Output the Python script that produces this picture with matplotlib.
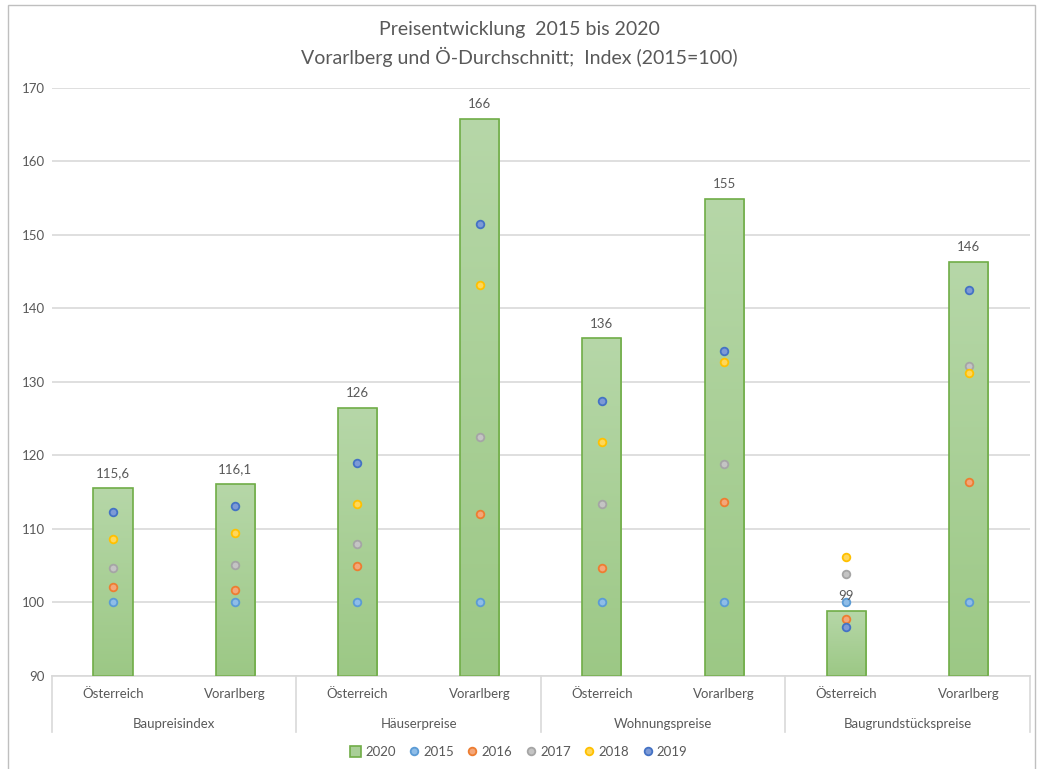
import numpy as np
import matplotlib.pyplot as plt
from matplotlib.lines import Line2D
from matplotlib.patches import Rectangle
from matplotlib.colors import LinearSegmentedColormap
import matplotlib.transforms as mtransforms

plt.rcParams['font.family'] = ['Lato', 'DejaVu Sans']

regions = ['Österreich', 'Vorarlberg'] * 4
groups = ['Baupreisindex', 'Häuserpreise', 'Wohnungspreise', 'Baugrundstückspreise']
v2020 = [115.6, 116.1, 126.4, 165.8, 135.9, 154.9, 98.8, 146.3]
labels2020 = ['115,6', '116,1', '126', '166', '136', '155', '99', '146']
v2015 = [100, 100, 100, 100, 100, 100, 100, 100]
v2016 = [102.1, 101.7, 104.9, 112.0, 104.7, 113.6, 97.8, 116.4]
v2017 = [104.7, 105.1, 108.0, 122.5, 113.4, 118.8, 103.8, 132.2]
v2018 = [108.6, 109.5, 113.4, 143.1, 121.8, 132.7, 106.2, 131.2]
v2019 = [112.3, 113.1, 119.0, 151.5, 127.4, 134.2, 96.7, 142.5]

dot_series = [
    ('2015', v2015, '#5b9bd5', '#8fbde8'),
    ('2016', v2016, '#ed7d31', '#f4a77a'),
    ('2017', v2017, '#a5a5a5', '#c4c4c4'),
    ('2018', v2018, '#ffc000', '#ffd75a'),
    ('2019', v2019, '#4472c4', '#7d9ad6'),
]

txt = '#595959'
fig = plt.figure(figsize=(10.38, 7.69), dpi=100)
ax = fig.add_axes([0.050, 0.121, 0.942, 0.765])

x = np.arange(len(regions))
w = 0.32
bars = ax.bar(x, np.array(v2020) - 90, bottom=90, width=w, color='none',
              edgecolor='#70ad47', linewidth=1.2, zorder=3)

# gradient fill for the 2020 bars
grad = np.linspace(0, 1, 256).reshape(-1, 1)
cm = LinearSegmentedColormap.from_list('g', ['#9cc885', '#b6d7a8'])
for b in bars:
    x0, y0 = b.get_x(), b.get_y()
    im = ax.imshow(grad, cmap=cm, aspect='auto', origin='lower',
                   extent=[x0, x0 + b.get_width(), y0, y0 + b.get_height()], zorder=2)
    im.set_clip_path(b)

for xi, v, lab in zip(x, v2020, labels2020):
    ax.text(xi, v + 1.2, lab, ha='center', va='bottom', fontsize=9.5, color=txt, zorder=5)

for name, vals, ec, fc in dot_series:
    ax.plot(x, vals, 'o', ls='none', ms=5.5, mfc=fc, mec=ec, mew=1.3, zorder=4)

ax.set_xlim(-0.5, 7.5)
ax.set_ylim(90, 170)
ax.set_yticks(range(90, 171, 10))
ax.yaxis.grid(True, color='#d9d9d9', lw=1.2)
ax.set_axisbelow(True)
for s in ['top', 'right', 'left']:
    ax.spines[s].set_visible(False)
ax.spines['bottom'].set_color('#d9d9d9')
ax.spines['bottom'].set_linewidth(1.2)
ax.tick_params(axis='y', length=0, labelsize=9.5, labelcolor=txt, pad=5)
ax.set_xticks(x)
ax.set_xticklabels(regions, fontsize=9.5, color=txt)
ax.tick_params(axis='x', length=0, pad=9)

# second level of category labels
trans = mtransforms.blended_transform_factory(ax.transData, ax.transAxes)
for gi, g in enumerate(groups):
    ax.text(gi * 2 + 0.5, -0.081, g, transform=trans, ha='center', va='center',
            fontsize=9.5, color=txt)
for sx in [-0.5, 1.5, 3.5, 5.5, 7.5]:
    ax.add_line(Line2D([sx, sx], [0, -0.095], transform=trans, color='#d9d9d9',
                       lw=1.2, clip_on=False))

fig.text(0.5, 0.962, 'Preisentwicklung  2015 bis 2020', ha='center', va='center',
         fontsize=14, color=txt)
fig.text(0.5, 0.926, 'Vorarlberg und Ö-Durchschnitt;  Index (2015=100)', ha='center',
         va='center', fontsize=14, color=txt)

handles = [Rectangle((0, 0), 1, 1, facecolor='#a9cf97', edgecolor='#70ad47', lw=1.2)]
for name, vals, ec, fc in dot_series:
    handles.append(Line2D([], [], marker='o', ls='none', ms=5.5, mfc=fc, mec=ec, mew=1.3))
fig.legend(handles, ['2020'] + [d[0] for d in dot_series], loc='center',
           bbox_to_anchor=(0.5, 0.022), ncol=6, frameon=False, fontsize=9.5,
           labelcolor=txt, handlelength=0.8, handleheight=0.8, handletextpad=0.3,
           columnspacing=1.0)

fig.add_artist(Rectangle((0.008, -0.01), 0.989, 1.004, transform=fig.transFigure,
                         fill=False, edgecolor='#bfbfbf', lw=1))

fig.savefig('out.png', dpi=100)
